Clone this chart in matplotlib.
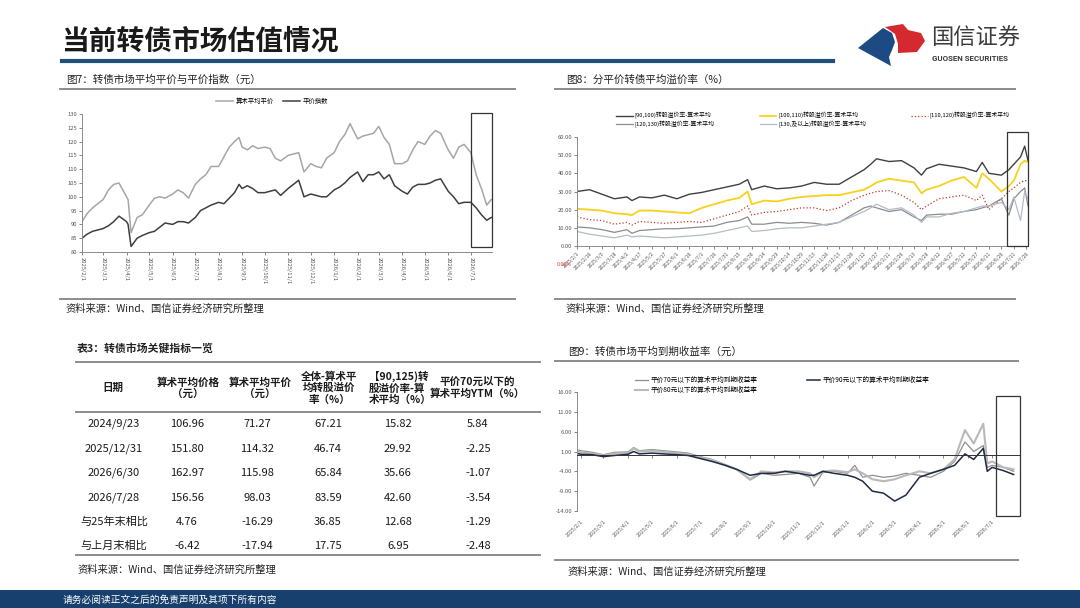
import numpy as np
import pandas as pd
import matplotlib
matplotlib.use('Agg')
from matplotlib import pyplot as plt
from matplotlib.lines import Line2D
from matplotlib.patches import Rectangle, Polygon

plt.rcParams['font.family'] = ['Noto Sans CJK SC', 'DejaVu Sans']
plt.rcParams['axes.unicode_minus'] = False

# ---------------- data ----------------
# fig7: 转债市场平均平价与平价指数
c1_dates = ['2025-02-01', '2025-02-08', '2025-02-15', '2025-02-22', '2025-03-01', '2025-03-08', '2025-03-15',
            '2025-03-22', '2025-04-01', '2025-04-03', '2025-04-07', '2025-04-15', '2025-04-22', '2025-05-01',
            '2025-05-08', '2025-05-15', '2025-05-22', '2025-06-01', '2025-06-08', '2025-06-15', '2025-06-22',
            '2025-07-01', '2025-07-08', '2025-07-15', '2025-07-22', '2025-08-01', '2025-08-08', '2025-08-15',
            '2025-08-22', '2025-08-28', '2025-09-01', '2025-09-08', '2025-09-15', '2025-09-22', '2025-10-01',
            '2025-10-08', '2025-10-15', '2025-10-22', '2025-11-01', '2025-11-08', '2025-11-15', '2025-11-22',
            '2025-12-01', '2025-12-08', '2025-12-15', '2025-12-22', '2026-01-01', '2026-01-08', '2026-01-15',
            '2026-01-22', '2026-02-01', '2026-02-08', '2026-02-15', '2026-02-22', '2026-03-01', '2026-03-08',
            '2026-03-15', '2026-03-22', '2026-04-01', '2026-04-08', '2026-04-15', '2026-04-22', '2026-05-01',
            '2026-05-08', '2026-05-15', '2026-05-22', '2026-06-01', '2026-06-08', '2026-06-15', '2026-06-22',
            '2026-07-01', '2026-07-08', '2026-07-15', '2026-07-22', '2026-07-28']
avg_parity = [91, 94, 96, 97.5, 99, 102.5, 104.5, 105, 100, 99, 87, 92.5, 93.5, 97, 99.5, 100, 99.5,
              101, 102.5, 101.5, 99.5, 104.5, 106.5, 108, 111, 111, 114.5, 118, 120, 121.5,
              118, 117, 118.5, 117.5, 118, 117.5, 114, 113, 115, 115.5, 116, 109, 112, 111, 110.5, 114,
              116, 120, 122.5, 126.5, 121, 122, 122.5, 123, 125.5, 121.5, 119, 112, 112, 113, 117, 120,
              119, 122, 124, 123, 117, 114, 118, 119, 116, 108, 103, 97, 99]
parity_index = [85, 86.5, 87.5, 88, 88.5, 89.5, 91, 93, 91, 90, 82, 85, 86, 87, 87.5, 89, 90.5,
                90, 91, 91, 90.5, 92.5, 95, 96, 97, 98, 97.5, 99.5, 101.5, 104.5,
                103, 104, 103, 101.5, 101.5, 102, 102.5, 100.5, 103, 104.5, 106, 100, 101, 100.5, 100, 100,
                102.5, 103.5, 105, 107, 109, 105.5, 108, 108, 109, 106.5, 108, 104, 102, 101, 103.5, 104.5,
                104.5, 105, 106, 106.5, 102, 100, 97.5, 98, 98, 96, 93.5, 91.5, 92.5]
c1_ticks = ['2025/2/1', '2025/3/1', '2025/4/1', '2025/5/1', '2025/6/1', '2025/7/1', '2025/8/1', '2025/9/1',
            '2025/10/1', '2025/11/1', '2025/12/1', '2026/1/1', '2026/2/1', '2026/3/1', '2026/4/1',
            '2026/5/1', '2026/6/1', '2026/7/1']

# fig8: 分平价转债平均溢价率
c2_dates = ['2025-02-01', '2025-02-16', '2025-03-03', '2025-03-18', '2025-04-02', '2025-04-08', '2025-04-17',
            '2025-05-02', '2025-05-17', '2025-06-01', '2025-06-16', '2025-07-01', '2025-07-16', '2025-07-31',
            '2025-08-15', '2025-08-25', '2025-08-30', '2025-09-14', '2025-09-29', '2025-10-14', '2025-10-29',
            '2025-11-13', '2025-11-28', '2025-12-13', '2025-12-28', '2026-01-12', '2026-01-20', '2026-01-27',
            '2026-02-11', '2026-02-26', '2026-03-13', '2026-03-22', '2026-03-28', '2026-04-12', '2026-04-27',
            '2026-05-12', '2026-05-27', '2026-06-03', '2026-06-11', '2026-06-26', '2026-07-05', '2026-07-11',
            '2026-07-19', '2026-07-24', '2026-07-28']
prem_90_100 = [30, 31, 28.5, 26, 27, 25, 27, 26.5, 28, 26, 28.5, 29.5, 31, 32.5, 34, 36.5, 31, 33, 31.5, 32,
               33, 35, 34, 34, 38, 42, 45, 48, 46.5, 47, 43, 39, 42.5, 45, 44, 43, 41, 46, 40, 39,
               42, 45, 49, 55, 47]
prem_100_110 = [20.5, 20, 19.5, 18, 17.5, 17, 19.5, 19.5, 19, 18.5, 18, 21, 23, 25, 26.5, 30, 23, 25, 24.5, 26,
                27, 27.5, 28, 28, 29.5, 31, 33, 35, 37, 36, 35, 29, 31, 33, 36, 38, 32, 40, 37, 30,
                33, 36, 45, 47, 46]
prem_110_120 = [16, 14.5, 14, 12, 13, 11.5, 13.5, 13, 12.5, 13, 13.5, 13, 15, 17, 19, 22, 17, 18.5, 19, 20,
                21, 21, 19.5, 21, 25, 28, 29, 30, 30.5, 28, 24, 20, 22, 26, 27, 28, 25, 28, 20, 26,
                30, 32, 35, 36, 36]
prem_120_130 = [10.5, 10, 9, 7.5, 9, 7, 8.5, 9, 9.5, 9.5, 10, 10.5, 11, 13, 14, 16, 12, 12, 13, 12.5,
                13, 12.5, 11.5, 13, 17, 21, 22, 21, 19, 20, 16, 14, 17, 17.5, 17.5, 19, 20, 21, 22, 26,
                17, 26, 30, 32, 22]
prem_130_up = [8, 6.5, 5.5, 4.5, 6, 5, 5.5, 5, 4.5, 5, 5.5, 6, 7, 8.5, 10, 11, 8, 8.5, 9.5, 10,
               10, 11, 12, 13, 16, 19, 21, 23, 20, 21, 17, 13, 16, 16, 18, 19, 21, 22, 22, 24,
               20, 27, 14, 30, 26]
c2_labels = ['[90,100)转股溢价率-算术平均', '[100,110)转股溢价率-算术平均', '[110,120)转股溢价率-算术平均',
             '[120,130)转股溢价率-算术平均', '[130,及以上)转股溢价率-算术平均']
c2_ticks = ['2025/2/1', '2025/2/16', '2025/3/3', '2025/3/18', '2025/4/2', '2025/4/17', '2025/5/2', '2025/5/17',
            '2025/6/1', '2025/6/16', '2025/7/1', '2025/7/16', '2025/7/31', '2025/8/15', '2025/8/30',
            '2025/9/14', '2025/9/29', '2025/10/14', '2025/10/29', '2025/11/13', '2025/11/28', '2025/12/13',
            '2025/12/28', '2026/1/12', '2026/1/27', '2026/2/11', '2026/2/26', '2026/3/13', '2026/3/28',
            '2026/4/12', '2026/4/27', '2026/5/12', '2026/5/27', '2026/6/11', '2026/6/26', '2026/7/11',
            '2026/7/26']

# fig9: 转债市场平均到期收益率
c3_dates = ['2025-01-27', '2025-02-01', '2025-02-15', '2025-03-01', '2025-03-15', '2025-04-01', '2025-04-08',
            '2025-04-15', '2025-05-01', '2025-05-15', '2025-06-01', '2025-06-15', '2025-07-01', '2025-07-15',
            '2025-08-01', '2025-08-15', '2025-09-01', '2025-09-15', '2025-10-01', '2025-10-15', '2025-11-01',
            '2025-11-15', '2025-11-20', '2025-12-01', '2025-12-15', '2026-01-01', '2026-01-10', '2026-01-20',
            '2026-02-01', '2026-02-15', '2026-03-01', '2026-03-15', '2026-04-01', '2026-04-15', '2026-05-01',
            '2026-05-15', '2026-05-28', '2026-06-08', '2026-06-20', '2026-06-25', '2026-07-01', '2026-07-15',
            '2026-07-28']
ytm_70 = [1.4, 1.2, 0.8, 0.2, 0.8, 0.9, 2.0, 1.2, 1.5, 1.2, 0.9, 0.6, -0.3, -1.0, -2.3, -3.5, -6.2, -4.5,
          -5.0, -4.8, -4.5, -5.5, -7.7, -4.2, -4.0, -4.5, -2.5, -5.5, -5.0, -5.5, -5.2, -4.5, -5.0, -5.5,
          -4.0, -1.5, 3.4, 1.0, 2.5, -3.0, -2.5, -3.0, -4.0]
ytm_80 = [1.0, 0.8, 0.5, 0.0, 0.5, 0.6, 1.8, 1.0, 1.2, 0.9, 0.6, 0.3, -0.5, -1.2, -2.5, -3.5, -6.0, -4.0,
          -4.3, -4.0, -4.0, -4.5, -5.5, -4.0, -3.8, -4.2, -3.5, -4.5, -6.0, -6.5, -6.0, -5.0, -4.0, -4.5,
          -3.5, -1.0, 6.4, 3.0, 8.0, -2.0, -1.5, -3.0, -3.5]
ytm_90 = [0.5, 0.3, 0.2, -0.3, 0.0, 0.3, 1.0, 0.4, 0.6, 0.4, 0.2, 0.0, -0.8, -1.5, -2.5, -3.5, -5.0, -4.5,
          -4.5, -4.0, -4.5, -5.0, -5.0, -4.0, -4.5, -5.0, -5.5, -6.5, -9.0, -9.5, -11.5, -10.0, -5.5, -4.5,
          -3.5, -2.5, 0.4, -1.0, 1.8, -4.0, -3.0, -3.8, -4.8]
c3_labels = ['平价70元以下的算术平均到期收益率', '平价80元以下的算术平均到期收益率', '平价90元以下的算术平均到期收益率']
c3_ticks = c1_ticks

# 表3
tbl_header = ['日期', '算术平均价格\n（元）', '算术平均平价\n（元）', '全体-算术平\n均转股溢价\n率（%）',
              '【90,125)转\n股溢价率-算\n术平均（%）', '平价70元以下的\n算术平均YTM（%）']
tbl_rows = [['2024/9/23', '106.96', '71.27', '67.21', '15.82', '5.84'],
            ['2025/12/31', '151.80', '114.32', '46.74', '29.92', '-2.25'],
            ['2026/6/30', '162.97', '115.98', '65.84', '35.66', '-1.07'],
            ['2026/7/28', '156.56', '98.03', '83.59', '42.60', '-3.54'],
            ['与25年末相比', '4.76', '-16.29', '36.85', '12.68', '-1.29'],
            ['与上月末相比', '-6.42', '-17.94', '17.75', '6.95', '-2.48']]

source = '资料来源：Wind、国信证券经济研究所整理'

# ---------------- layout helpers (pixels) ----------------
W, H = 1080, 608
fig = plt.figure(figsize=(W / 100, H / 100), dpi=100)


def fx(x):
    return x / W


def fy(y):
    return 1 - y / H


def rect(l, t, r, b):
    return [l / W, 1 - b / H, (r - l) / W, (b - t) / H]


def hline(x0, x1, y, color='#8c8c8c', lw=1.4):
    fig.add_artist(Line2D([fx(x0), fx(x1)], [fy(y), fy(y)], transform=fig.transFigure, color=color, lw=lw))


def box(l, t, r, b):
    fig.add_artist(Rectangle((fx(l), fy(b)), (r - l) / W, (b - t) / H, transform=fig.transFigure,
                             fill=False, ec='#333333', lw=0.9))


def style_ax(ax):
    ax.spines['top'].set_visible(False)
    ax.spines['right'].set_visible(False)
    for s in ['left', 'bottom']:
        ax.spines[s].set_color('#8c8c8c')
        ax.spines[s].set_linewidth(0.7)
    ax.tick_params(labelsize=4.2, length=2, width=0.5, colors='#555555', pad=1.5)


def to_dt(lst, fmt=None):
    return pd.to_datetime(lst, format=fmt)


# ---------------- header / footer ----------------
fig.text(fx(61), fy(42), '当前转债市场估值情况', fontsize=20, fontweight='bold', color='#1a1a1a',
         ha='left', va='center')
hline(62, 833, 61, color='#1f4f7c', lw=3)

fig.add_artist(Polygon([(fx(858), fy(48)), (fx(883), fy(28)), (fx(892), fy(33)), (fx(895), fy(42)),
                        (fx(892), fy(50)), (fx(889), fy(57)), (fx(891), fy(66))], closed=True,
                       transform=fig.transFigure, fc='#1c4a82', ec='none'))
fig.add_artist(Polygon([(fx(885), fy(27)), (fx(903), fy(24)), (fx(908), fy(30)), (fx(921), fy(33)),
                        (fx(925), fy(41)), (fx(917), fy(52)), (fx(898), fy(53)), (fx(898), fy(44)),
                        (fx(895), fy(34))], closed=True, transform=fig.transFigure, fc='#d42a2f', ec='none'))
fig.text(fx(931), fy(38), '国信证券', fontsize=16, color='#3c3c3c', ha='left', va='center')
fig.text(fx(932), fy(58.5), 'GUOSEN SECURITIES', fontsize=5.7, color='#3c3c3c', fontweight='bold',
         ha='left', va='center', family=['Roboto', 'DejaVu Sans'])

fig.add_artist(Rectangle((0, 0), 1, 18 / H, transform=fig.transFigure, fc='#17406e', ec='none'))
fig.text(fx(63), fy(599.5), '请务必阅读正文之后的免责声明及其项下所有内容', fontsize=7, color='white',
         ha='left', va='center')

# ---------------- fig7 ----------------
fig.text(fx(66), fy(80), '图7：转债市场平均平价与平价指数（元）', fontsize=7.6, color='#222222', va='center')
hline(60, 515, 89)
hline(60, 515, 299)
fig.text(fx(66), fy(309), source, fontsize=7.4, color='#222222', va='center')

ax1 = fig.add_axes(rect(82, 114, 492, 252))
d1 = to_dt(c1_dates)
ax1.plot(d1, avg_parity, color='#a6a6a6', lw=1.1, label='算术平均平价')
ax1.plot(d1, parity_index, color='#3f3f3f', lw=1.1, label='平价指数')
ax1.set_ylim(80, 130)
ax1.set_yticks(np.arange(80, 131, 5))
ax1.set_xlim(to_dt(['2025-02-01'])[0], to_dt(['2026-07-29'])[0])
ax1.set_xticks(to_dt(c1_ticks, '%Y/%m/%d'))
ax1.set_xticklabels(c1_ticks, rotation=270, ha='center', va='top')
style_ax(ax1)
ax1.legend(loc='center', bbox_to_anchor=(fx(272), fy(101)), bbox_transform=fig.transFigure, ncol=2,
           frameon=False, fontsize=4.6, handlelength=2.6, columnspacing=1.5, handletextpad=0.4)
box(471, 113, 492, 247)

# ---------------- fig8 ----------------
fig.text(fx(566), fy(80), '图8：分平价转债平均溢价率（%）', fontsize=7.6, color='#222222', va='center')
hline(555, 1015, 89)
hline(555, 1015, 299)
fig.text(fx(566), fy(309), source, fontsize=7.4, color='#222222', va='center')

ax2 = fig.add_axes(rect(577, 137, 1028, 246))
d2 = to_dt(c2_dates)
l_a, = ax2.plot(d2, prem_90_100, color='#404040', lw=1.0)
l_b, = ax2.plot(d2, prem_100_110, color='#f7d21c', lw=1.3)
l_c, = ax2.plot(d2, prem_110_120, color='#c0392b', lw=0.9, ls=':')
l_d, = ax2.plot(d2, prem_120_130, color='#8c8c8c', lw=0.9)
l_e, = ax2.plot(d2, prem_130_up, color='#b3bcc9', lw=0.9)
ax2.set_ylim(0, 60)
ax2.set_yticks(np.arange(0, 61, 10))
ax2.set_yticklabels(['%.2f' % v for v in np.arange(0, 61, 10)])
ax2.set_xlim(to_dt(['2025-02-01'])[0], to_dt(['2026-07-28'])[0])
ax2.set_xticks(to_dt(c2_ticks, '%Y/%m/%d'))
ax2.set_xticklabels(c2_ticks, rotation=45, ha='right', va='top', rotation_mode='anchor')
style_ax(ax2)
ax2.tick_params(axis='x', labelsize=3.6)
ax2.legend([l_a, l_d, l_b, l_e, l_c], [c2_labels[0], c2_labels[3], c2_labels[1], c2_labels[4], c2_labels[2]],
           loc='center', bbox_to_anchor=(fx(813), fy(120)), bbox_transform=fig.transFigure, ncol=3,
           frameon=False, fontsize=4.2, handlelength=2.8, columnspacing=7.8, handletextpad=0.3,
           labelspacing=0.25)
fig.text(fx(557), fy(265), '0.00%', fontsize=3.8, color='#d04040', va='center')
box(1007, 132, 1028, 246)

# ---------------- table 3 ----------------
fig.text(fx(77), fy(348), '表3：转债市场关键指标一览', fontsize=7.8, fontweight='bold', color='#222222', va='center')
hline(76, 540, 362)
hline(76, 540, 412)
hline(76, 540, 555)
head_x = [113, 188, 260, 329, 400, 477]
head_align = ['center', 'center', 'center', 'center', 'left', 'center']
col_x = [114, 187, 257, 328, 398, 478]
row_y = [424, 449, 473, 498, 522, 546]
for cx, htxt, al in zip(head_x, tbl_header, head_align):
    fig.text(fx(cx), fy(388), htxt, fontsize=7.6, fontweight='bold', color='#1a1a1a', ha='center',
             va='center', multialignment=al, linespacing=1.15)
for ry, row in zip(row_y, tbl_rows):
    for cx, val in zip(col_x, row):
        fig.text(fx(cx), fy(ry), val, fontsize=8, color='#1a1a1a', ha='center', va='center')
fig.text(fx(77), fy(570), source, fontsize=7.4, color='#222222', va='center')

# ---------------- fig9 ----------------
fig.text(fx(568), fy(352), '图9：转债市场平均到期收益率（元）', fontsize=7.6, color='#222222', va='center')
hline(555, 1018, 361)
hline(555, 1018, 560)
fig.text(fx(568), fy(572), source, fontsize=7.4, color='#222222', va='center')

ax3 = fig.add_axes(rect(577, 392, 1020, 511))
d3 = to_dt(c3_dates)
l70, = ax3.plot(d3, ytm_70, color='#8f8f8f', lw=0.9)
l80, = ax3.plot(d3, ytm_80, color='#b9b9b9', lw=1.5)
l90, = ax3.plot(d3, ytm_90, color='#1f2a44', lw=1.1)
style_ax(ax3)
# x axis crosses at 0, labels stay below the plot
ax3.spines['bottom'].set_position(('data', 0))
ax3.spines['bottom'].set_color('#333333')
ax3.set_ylim(-14, 16)
ax3.set_yticks(np.arange(-14, 17, 5))
ax3.set_yticklabels(['%.2f' % v for v in np.arange(-14, 17, 5)])
ax3.set_xlim(to_dt(['2025-01-27'])[0], to_dt(['2026-08-05'])[0])
ax3.set_xticks(to_dt(c3_ticks, '%Y/%m/%d'))
ax3.set_xticklabels(c3_ticks, rotation=45, ha='right', va='top', rotation_mode='anchor')
ax3.tick_params(labelsize=4.2, length=2, width=0.5, colors='#555555')
ax3.tick_params(axis='x', labelsize=3.8, pad=44)
ax3.legend([l70, l80, l90], c3_labels, loc='center', bbox_to_anchor=(fx(782), fy(385)),
           bbox_transform=fig.transFigure, ncol=2, frameon=False, fontsize=4.8, handlelength=2.0,
           columnspacing=7.5, handletextpad=0.3, labelspacing=0.3)
box(996, 396, 1020, 516)

fig.savefig('out.png', dpi=100)
